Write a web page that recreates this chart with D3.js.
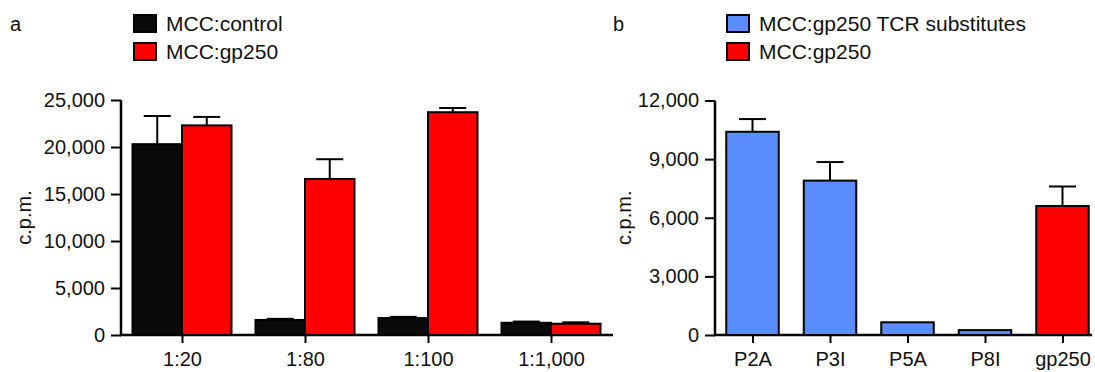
<!DOCTYPE html>
<html lang="en">

<head>
    <meta charset="UTF-8" />
    <title>MCC:gp250 proliferation</title>
    <script src="https://cdn.jsdelivr.net/npm/d3@7"></script>
    <style>
        body { margin: 0; background: #fff; }
        svg { display: block; font-family: "Liberation Sans", Arial, sans-serif; }
    </style>
</head>

<body>
    <svg width="1095" height="372"></svg>
    <script>
        // panel a data
        const dilutions = ["1:20", "1:80", "1:100", "1:1,000"];
        const controlValues = [20300, 1600, 1800, 1300];
        const controlErrors = [3000, 120, 130, 130];
        const gp250Values = [22300, 16600, 23700, 1200];
        const gp250Errors = [900, 2100, 450, 150];
        const ticksA = [0, 5000, 10000, 15000, 20000, 25000];

        // panel b data
        const peptides = ["P2A", "P3I", "P5A", "P8I", "gp250"];
        const peptideValues = [10400, 7900, 650, 250, 6600];
        const peptideErrors = [650, 950, 0, 0, 1000];
        const peptideGroup = ["sub", "sub", "sub", "sub", "gp250"];
        const ticksB = [0, 3000, 6000, 9000, 12000];

        const colors = { control: "#0a0a0a", gp250: "#ff0000", sub: "#5a8cff" };

        const svg = d3.select("svg");
        const fmt = d3.format(",");
        const fontSize = 20;

        function drawAxes(cfg) {
            const g = svg.append("g");
            // y axis
            const yAx = g.append("g")
                .attr("transform", `translate(${cfg.x0},0)`)
                .call(d3.axisLeft(cfg.y).tickValues(cfg.ticks).tickFormat(fmt).tickSize(10).tickPadding(6).tickSizeOuter(0));
            yAx.select(".domain").remove();
            yAx.selectAll(".tick line").attr("stroke", "#000").attr("stroke-width", 2);
            yAx.selectAll("text").attr("font-size", fontSize).attr("fill", "#111").attr("font-family", null);
            g.append("line")
                .attr("x1", cfg.x0).attr("x2", cfg.x0)
                .attr("y1", cfg.y.range()[1]).attr("y2", cfg.y.range()[0] + 1)
                .attr("stroke", "#000").attr("stroke-width", 2.5);

            // x axis
            const xAx = g.append("g")
                .attr("transform", `translate(0,${cfg.y(0)})`)
                .call(d3.axisBottom(cfg.x).tickSize(8).tickPadding(9).tickSizeOuter(0));
            xAx.select(".domain").remove();
            xAx.selectAll(".tick line").attr("stroke", "#000").attr("stroke-width", 2);
            xAx.selectAll("text").attr("font-size", fontSize).attr("fill", "#111").attr("font-family", null);
            g.append("line")
                .attr("x1", cfg.x0 - 1).attr("x2", cfg.x1)
                .attr("y1", cfg.y(0)).attr("y2", cfg.y(0))
                .attr("stroke", "#000").attr("stroke-width", 2.5);

            // y label
            svg.append("text")
                .attr("transform", `translate(${cfg.labelX},${(cfg.y.range()[0] + cfg.y.range()[1]) / 2}) rotate(-90)`)
                .attr("text-anchor", "middle")
                .attr("font-size", fontSize)
                .attr("fill", "#111")
                .text("c.p.m.");
        }

        function drawBars(bars, x, y) {
            const g = svg.append("g");
            g.selectAll("rect")
                .data(bars)
                .join("rect")
                .attr("x", d => x(d.cat) + d.offset)
                .attr("y", d => y(d.value))
                .attr("width", d => d.width)
                .attr("height", d => y(0) - y(d.value))
                .attr("fill", d => d.color)
                .attr("stroke", "#000")
                .attr("stroke-width", 2);

            const err = g.selectAll("g.err")
                .data(bars.filter(d => d.err > 0))
                .join("g")
                .attr("class", "err");
            err.append("line")
                .attr("x1", d => x(d.cat) + d.offset + d.width / 2)
                .attr("x2", d => x(d.cat) + d.offset + d.width / 2)
                .attr("y1", d => y(d.value))
                .attr("y2", d => y(d.value + d.err))
                .attr("stroke", "#000").attr("stroke-width", 2);
            err.append("line")
                .attr("x1", d => x(d.cat) + d.offset + d.width / 2 - 13.5)
                .attr("x2", d => x(d.cat) + d.offset + d.width / 2 + 13.5)
                .attr("y1", d => y(d.value + d.err))
                .attr("y2", d => y(d.value + d.err))
                .attr("stroke", "#000").attr("stroke-width", 2);
        }

        function drawLegend(x, items) {
            const g = svg.append("g");
            items.forEach((it, i) => {
                g.append("rect")
                    .attr("x", x).attr("y", 15 + i * 28)
                    .attr("width", 22).attr("height", 17)
                    .attr("fill", it.color)
                    .attr("stroke", "#000").attr("stroke-width", 2);
                g.append("text")
                    .attr("x", x + 32).attr("y", 31 + i * 28)
                    .attr("font-size", 21)
                    .attr("fill", "#111")
                    .text(it.label);
            });
        }

        // ---- panel a ----
        const yA = d3.scaleLinear().domain([0, 25000]).range([335, 100]);
        const xA = d3.scalePoint().domain(dilutions).range([182, 551]);
        const barW = 49.5;
        const barsA = [];
        dilutions.forEach((c, i) => {
            barsA.push({ cat: c, value: controlValues[i], err: controlErrors[i], offset: -barW, width: barW, color: colors.control });
            barsA.push({ cat: c, value: gp250Values[i], err: gp250Errors[i], offset: 0, width: barW, color: colors.gp250 });
        });
        drawAxes({ x: xA, y: yA, ticks: ticksA, x0: 121, x1: 613, labelX: 31 });
        drawBars(barsA, xA, yA);
        svg.append("text").attr("x", 10).attr("y", 31).attr("font-size", 20).attr("fill", "#111").text("a");
        drawLegend(134, [
            { label: "MCC:control", color: colors.control },
            { label: "MCC:gp250", color: colors.gp250 }
        ]);

        // ---- panel b ----
        const yB = d3.scaleLinear().domain([0, 12000]).range([335, 100.5]);
        const xB = d3.scalePoint().domain(peptides).range([752.5, 1062.5]);
        const barWB = 52.5;
        const barsB = peptides.map((c, i) => ({
            cat: c, value: peptideValues[i], err: peptideErrors[i],
            offset: -barWB / 2, width: barWB, color: colors[peptideGroup[i]]
        }));
        drawAxes({ x: xB, y: yB, ticks: ticksB, x0: 715, x1: 1092, labelX: 631 });
        drawBars(barsB, xB, yB);
        svg.append("text").attr("x", 613).attr("y", 31).attr("font-size", 20).attr("fill", "#111").text("b");
        drawLegend(727, [
            { label: "MCC:gp250 TCR substitutes", color: colors.sub },
            { label: "MCC:gp250", color: colors.gp250 }
        ]);
    </script>
</body>

</html>
